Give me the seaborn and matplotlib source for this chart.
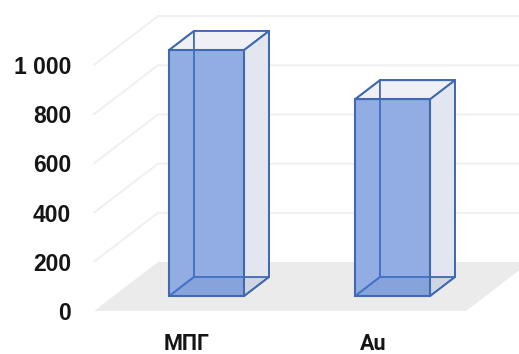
import matplotlib
matplotlib.use("Agg")
import matplotlib.pyplot as plt
import seaborn as sns
from matplotlib.patches import Polygon
from matplotlib.transforms import Affine2D

categories = ["МПГ", "Au"]
values = [1000, 800]
y_ticks = [0, 200, 400, 600, 800, 1000]
y_tick_labels = ["0", "200", "400", "600", "800", "1 000"]

sns.set_style("white")
plt.rcParams["font.family"] = ["Liberation Sans", "DejaVu Sans"]

# Oblique projection: full chart depth shifts a point by this much in data units
DEPTH_X = 0.344
DEPTH_Y = 199.0
BAR_FRONT = 0.306
BAR_BACK = 0.694
BAR_WIDTH = 0.403

LINE = "#4169b0"
GRID = "#f0f0f0"
FLOOR = "#ebebeb"


def depth_shift(d):
    return Affine2D().translate(DEPTH_X * d, DEPTH_Y * d)


def project(x, y, d):
    return (x + DEPTH_X * d, y + DEPTH_Y * d)


fig = plt.figure(figsize=(5.19, 3.54), dpi=100)
ax = fig.add_axes([94 / 519, 1 - 311 / 354, 372 / 519, 246 / 354])

# Back faces of the boxes, filled with the pale side colour
sns.barplot(x=categories, y=values, width=BAR_WIDTH, color="#e8ebf3", saturation=1,
            edgecolor=LINE, linewidth=1.3, ax=ax)
back_bars = list(ax.patches)
for p in back_bars:
    p.set_transform(depth_shift(BAR_BACK) + ax.transData)
    p.set_zorder(3)
    p.set_clip_on(False)

ax.set_xlim(-0.5, 1.5)
ax.set_ylim(0, 1000)

# Floor
x0, x1 = -0.5, 1.5
ax.add_patch(Polygon([project(x0, 0, 0), project(x1, 0, 0), project(x1, 0, 1), project(x0, 0, 1)],
                     closed=True, facecolor=FLOOR, edgecolor="none", zorder=1, clip_on=False))

# Gridlines on the back and left walls
for v in y_ticks[1:]:
    pts = [project(x0, v, 0), project(x0, v, 1), project(x1, v, 1)]
    ax.plot(*zip(*pts), color=GRID, lw=1.5, zorder=1, clip_on=False, solid_joinstyle="miter")

# Side, top and floor faces of each box
for p in back_bars:
    left, right = p.get_x(), p.get_x() + p.get_width()
    h = p.get_height()
    faces = [
        ([(left, 0, BAR_FRONT), (left, 0, BAR_BACK), (left, h, BAR_BACK), (left, h, BAR_FRONT)], "#e8ebf3", 1.0),
        ([(right, 0, BAR_FRONT), (right, 0, BAR_BACK), (right, h, BAR_BACK), (right, h, BAR_FRONT)], "#e2e6f0", 1.0),
        ([(left, h, BAR_FRONT), (right, h, BAR_FRONT), (right, h, BAR_BACK), (left, h, BAR_BACK)], "#eef0f5", 1.0),
        ([(left, 0, BAR_FRONT), (right, 0, BAR_FRONT), (right, 0, BAR_BACK), (left, 0, BAR_BACK)], "#cfd5e3", 1.0),
    ]
    for verts, color, alpha in faces:
        ax.add_patch(Polygon([project(*v) for v in verts], closed=True, facecolor=color, edgecolor="none",
                             alpha=alpha, zorder=4, clip_on=False))
    for verts, color, alpha in faces:
        ax.add_patch(Polygon([project(*v) for v in verts], closed=True, facecolor="none", edgecolor=LINE,
                             lw=1.3, zorder=4.5, clip_on=False, joinstyle="round"))

# Translucent front faces of the boxes
n_before = len(ax.patches)
sns.barplot(x=categories, y=values, width=BAR_WIDTH, color="#4a7bd6", saturation=1,
            edgecolor="none", alpha=0.55, ax=ax)
for p in ax.patches[n_before:]:
    p.set_transform(depth_shift(BAR_FRONT) + ax.transData)
    p.set_zorder(5)
    p.set_clip_on(False)
n_before = len(ax.patches)
sns.barplot(x=categories, y=values, width=BAR_WIDTH, fill=False, edgecolor=LINE,
            linewidth=1.5, ax=ax)
for p in ax.patches[n_before:]:
    p.set_transform(depth_shift(BAR_FRONT) + ax.transData)
    p.set_zorder(6)
    p.set_clip_on(False)

ax.set_xlim(-0.5, 1.5)
ax.set_ylim(0, 1000)
ax.set_xlabel("")
ax.set_ylabel("")
ax.set_yticks(y_ticks, y_tick_labels)
ax.set_xticks(range(len(categories)), categories)
ax.tick_params(axis="y", length=0, pad=16.5, labelsize=16.5, labelcolor="#151515")
ax.tick_params(axis="x", length=0, pad=15.5, labelsize=15.5, labelcolor="#151515")
for label in ax.get_yticklabels():
    label.set_fontweight("bold")
for label in ax.get_xticklabels():
    label.set_fontfamily(["Roboto", "Liberation Sans"])
    label.set_fontweight("bold")
ax.patch.set_alpha(0)
sns.despine(ax=ax, left=True, bottom=True)

fig.savefig("out.png", dpi=100)
